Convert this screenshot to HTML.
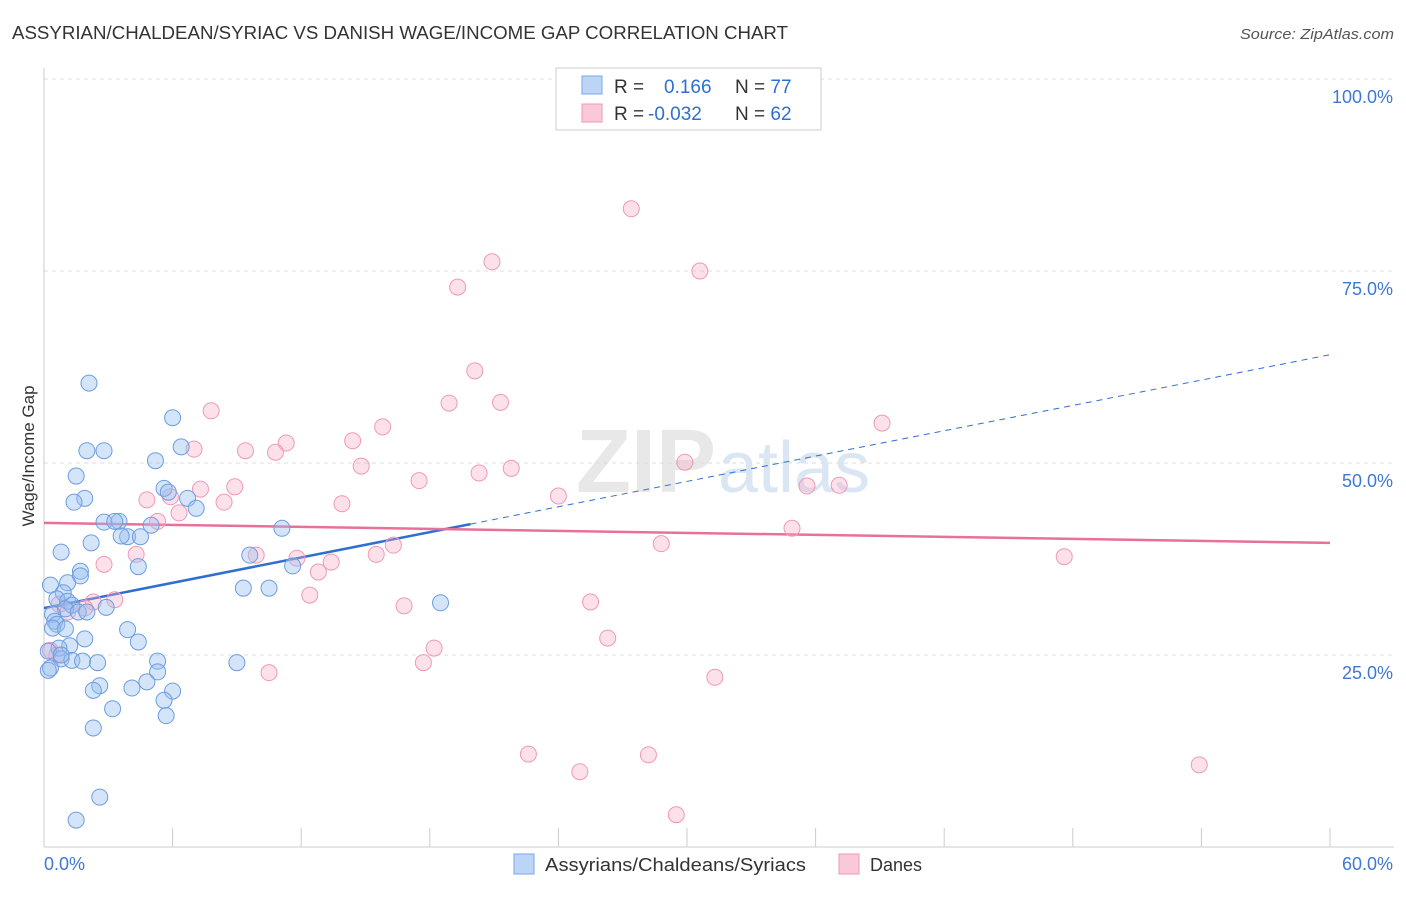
<!DOCTYPE html>
<html><head><meta charset="utf-8"><style>
body{margin:0;background:#fff;font-family:"Liberation Sans",sans-serif;}
svg text{font-family:"Liberation Sans",sans-serif;}
</style></head><body>
<svg id="chart" width="1406" height="892">
<text x="12" y="39" font-size="18" fill="#333" textLength="776" lengthAdjust="spacingAndGlyphs">ASSYRIAN/CHALDEAN/SYRIAC VS DANISH WAGE/INCOME GAP CORRELATION CHART</text>
<text x="1394" y="39" font-size="15" fill="#555" font-style="italic" text-anchor="end" textLength="154" lengthAdjust="spacingAndGlyphs">Source: ZipAtlas.com</text>
<text x="716" y="492" font-size="90" fill="#e8e8e8" text-anchor="end" font-family="Liberation Serif" font-weight="bold">ZIP</text>
<text x="718" y="492" font-size="72" fill="#dbe6f4">atlas</text>
<text x="34" y="456" font-size="17" fill="#333" text-anchor="middle" transform="rotate(-90 34 456)">Wage/Income Gap</text>
<g id="grid"></g><g id="axes"></g><g id="lines"></g><g id="pts"></g>
<g>
<rect x="556" y="68" width="265" height="62" fill="#fff" stroke="#ccc"/>
<rect x="582" y="76" width="20" height="18" fill="#bcd4f5" stroke="#7aa7e6"/>
<rect x="582" y="104" width="20" height="18" fill="#f9c9d8" stroke="#ee9ab5"/>
<text x="614" y="93" font-size="19" fill="#333">R = <tspan x="664" fill="#2f6fd1">0.166</tspan><tspan x="735" fill="#333">N = </tspan><tspan fill="#2f6fd1">77</tspan></text>
<text x="614" y="120" font-size="19" fill="#333">R = <tspan x="648" fill="#2f6fd1">-0.032</tspan><tspan x="735" fill="#333">N = </tspan><tspan fill="#2f6fd1">62</tspan></text>
</g>
<g>
<rect x="514" y="854" width="20" height="20" fill="#bcd4f5" stroke="#7aa7e6"/>
<text x="545" y="871" font-size="18" fill="#333" textLength="261" lengthAdjust="spacingAndGlyphs">Assyrians/Chaldeans/Syriacs</text>
<rect x="839" y="854" width="20" height="20" fill="#f9c9d8" stroke="#ee9ab5"/>
<text x="870" y="871" font-size="18" fill="#333">Danes</text>
</g>
</svg>
<script>
const blueX=[2.1,6.0,2.0,2.8,6.4,5.2,1.5,5.6,5.8,1.9,1.4,6.7,7.1,2.8,3.5,3.3,5.0,3.9,3.6,4.5,2.2,0.8,9.6,11.1,4.4,1.7,1.7,1.1,0.3,11.6,9.3,10.5,0.9,0.6,1.1,1.3,2.9,1.0,1.6,2.0,0.4,18.5,0.5,0.6,0.4,1.0,3.9,1.9,4.4,1.2,0.7,0.2,0.8,1.3,1.8,2.5,5.3,9.0,0.3,5.3,4.8,4.1,2.6,2.3,6.0,5.6,3.2,5.7,2.3,2.6,1.5,0.2,0.8];
const blueY=[60.4,55.9,51.6,51.6,52.1,50.3,48.3,46.7,46.2,45.4,44.9,45.4,44.1,42.3,42.4,42.4,41.9,40.4,40.5,40.4,39.6,38.4,38.0,41.5,36.5,35.9,35.3,34.4,34.1,36.6,33.7,33.7,33.1,32.3,32.0,31.5,31.2,31.0,30.6,30.6,30.3,31.8,29.4,29.0,28.5,28.4,28.3,27.1,26.7,26.2,25.9,25.5,24.5,24.3,24.2,24.0,24.2,24.0,23.3,22.8,21.5,20.7,21.0,20.4,20.3,19.1,18.0,17.1,15.5,6.5,3.5,23.0,25.0];
const pinkX=[27.4,20.9,30.6,19.3,20.1,18.9,21.3,7.8,39.1,15.8,11.3,14.4,9.4,7.0,10.8,14.8,21.8,29.9,20.3,17.5,8.9,7.3,4.8,5.9,8.4,13.9,24.0,35.6,37.1,6.3,5.3,34.9,28.8,16.3,15.5,9.9,11.8,4.3,2.8,13.4,12.8,47.6,12.4,16.8,25.5,3.3,2.3,0.7,26.3,18.2,17.7,10.5,31.3,0.6,22.6,28.2,25.0,53.9,29.5,0.3,1.1,1.9];
const pinkY=[83.1,76.2,75.0,72.9,62.0,57.8,57.9,56.8,55.2,54.7,52.6,52.9,51.6,51.8,51.4,49.6,49.3,50.1,48.7,47.7,46.9,46.6,45.2,45.6,44.9,44.7,45.7,47.0,47.1,43.5,42.4,41.5,39.5,39.3,38.1,38.0,37.6,38.1,36.8,37.1,35.8,37.8,32.8,31.4,31.9,32.2,31.9,31.6,27.2,25.9,24.0,22.7,22.1,25.0,12.1,12.0,9.8,10.7,4.2,25.6,30.6,31.1];
const yTicks=[25,50,75,100];
const yTickLabels=["25.0%","50.0%","75.0%","100.0%"];
const xTicks=[0,6,12,18,24,30,36,42,48,54,60];
const blueTrend=[31.1,64.1], blueSolidEnd=19.9;
const pinkTrend=[42.2,39.6];
const NS="http://www.w3.org/2000/svg";
const X=v=>44+v/60*1286, Y=v=>847-v*7.68;
function mk(tag,attrs,parent){const e=document.createElementNS(NS,tag);for(const k in attrs)e.setAttribute(k,attrs[k]);document.getElementById(parent).appendChild(e);return e;}
yTicks.forEach((t,i)=>{
 const l=mk('line',{x1:44,x2:1394,y1:Y(t),y2:Y(t),stroke:'#ddd','stroke-dasharray':'4 4'},'grid');
 
 
 const tx=mk('text',{x:1393,y:Y(t)+24,'font-size':18,fill:'#3d78d6','text-anchor':'end'},'grid');
 tx.textContent=yTickLabels[i];
 
 
});
const ax=mk('line',{x1:44,x2:1394,y1:847,y2:847,stroke:'#ccc'},'axes');


const ay=mk('line',{x1:44,x2:44,y1:68,y2:847,stroke:'#ccc'},'axes');


xTicks.forEach(t=>{const l=mk('line',{x1:X(t),x2:X(t),y1:828,y2:847,stroke:'#ccc'},'axes');
 
 });
let t0=mk('text',{x:44,y:870,'font-size':18,fill:'#3d78d6'},'axes');t0.textContent='0.0%';


let t1=mk('text',{x:1393,y:870,'font-size':18,fill:'#3d78d6','text-anchor':'end'},'axes');t1.textContent='60.0%';


function drawPts(xs,ys,fill,stroke,name){xs.forEach((x,i)=>{const c=mk('circle',{cx:X(x),cy:Y(ys[i]),r:8,fill:fill,stroke:stroke,'stroke-width':1},'pts');
 
 });}
drawPts(pinkX,pinkY,'rgba(245,170,195,0.35)','#ee9ab5','dane-point');
drawPts(blueX,blueY,'rgba(150,190,240,0.4)','#6d9de0','assyrian-point');
const bAt=x=>blueTrend[0]+(blueTrend[1]-blueTrend[0])*x/60;
const bl=mk('line',{x1:X(0),y1:Y(bAt(0)),x2:X(blueSolidEnd),y2:Y(bAt(blueSolidEnd)),stroke:'#2f6fd1','stroke-width':2.5},'lines');


const bd=mk('line',{x1:X(blueSolidEnd),y1:Y(bAt(blueSolidEnd)),x2:X(60),y2:Y(bAt(60)),stroke:'#2f6fd1','stroke-width':1,'stroke-dasharray':'6 5'},'lines');


const pl=mk('line',{x1:X(0),y1:Y(pinkTrend[0]),x2:X(60),y2:Y(pinkTrend[1]),stroke:'#e8709a','stroke-width':2.5},'lines');


</script>
</body></html>
